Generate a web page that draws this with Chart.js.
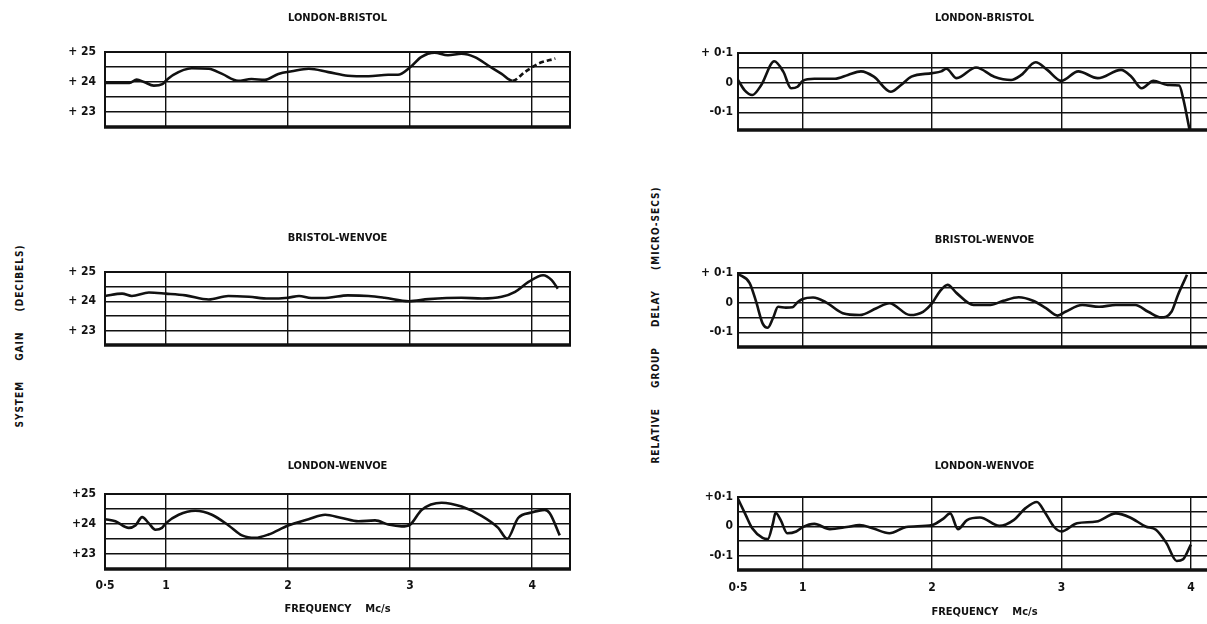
<!DOCTYPE html>
<html>
<head>
<meta charset="utf-8">
<script src="https://cdn.jsdelivr.net/npm/chart.js@4.4.1/dist/chart.umd.min.js"></script>
<style>
  body { margin: 0; width: 1207px; height: 624px; overflow: hidden; background: #fff; position: relative; }
  .panel { position: absolute; }
  .ytitle {
    position: absolute; white-space: nowrap; color: #111;
    font: bold 10px 'Liberation Sans Narrow', 'DejaVu Sans Condensed', 'Liberation Sans', sans-serif;
    letter-spacing: 1px; word-spacing: 16px;
    transform: translate(-50%, -50%) rotate(-90deg);
  }
</style>
</head>
<body>
<canvas class="panel" id="gainLB" width="536" height="147" style="left:40px;top:0px"></canvas>
<canvas class="panel" id="gainBW" width="536" height="145" style="left:40px;top:220px"></canvas>
<canvas class="panel" id="gainLW" width="536" height="176" style="left:40px;top:448px"></canvas>
<canvas class="panel" id="delayLB" width="557" height="150" style="left:680px;top:0px"></canvas>
<canvas class="panel" id="delayBW" width="557" height="145" style="left:680px;top:222px"></canvas>
<canvas class="panel" id="delayLW" width="557" height="176" style="left:680px;top:448px"></canvas>
<div class="ytitle" style="left:19px;top:336px">SYSTEM GAIN (DECIBELS)</div>
<div class="ytitle" style="left:655px;top:325px">RELATIVE GROUP DELAY (MICRO-SECS)</div>
<script>
// frequency ticks (Mc/s)
const freqTicks = [0.5, 1, 2, 3, 4];
const freqLabels = ["0·5", "1", "2", "3", "4"];

// system gain, dB
const gainTicks = [23, 23.5, 24, 24.5, 25];
const gainLabels = ["+ 23", "", "+ 24", "", "+ 25"];
const gainLabelsLow = ["+23", "", "+24", "", "+25"];

const freqGainLB = [0.5, 0.7, 0.76, 0.82, 0.9, 0.97, 1.0, 1.06, 1.21, 1.35, 1.46, 1.59, 1.70, 1.81, 1.92, 2.03, 2.17, 2.33, 2.49, 2.66, 2.82, 2.9, 3.0, 3.09, 3.2, 3.31, 3.42, 3.53, 3.64, 3.75, 3.84, 3.94, 4.05, 4.19];
const gainLB = [23.97, 23.97, 24.08, 24.0, 23.88, 23.93, 24.05, 24.24, 24.46, 24.44, 24.27, 24.04, 24.1, 24.07, 24.27, 24.36, 24.44, 24.33, 24.21, 24.19, 24.24, 24.24, 24.49, 24.83, 24.98, 24.89, 24.94, 24.83, 24.55, 24.27, 24.04, 24.33, 24.61, 24.78];

const freqGainBW = [0.5, 0.64, 0.72, 0.86, 1.0, 1.16, 1.35, 1.51, 1.68, 1.84, 2.0, 2.09, 2.19, 2.33, 2.49, 2.66, 2.79, 2.99, 3.15, 3.42, 3.59, 3.75, 3.86, 3.97, 4.09, 4.16, 4.21];
const gainBW = [24.18, 24.26, 24.18, 24.3, 24.26, 24.2, 24.06, 24.18, 24.15, 24.09, 24.12, 24.18, 24.11, 24.12, 24.2, 24.18, 24.12, 24.0, 24.07, 24.12, 24.09, 24.15, 24.32, 24.66, 24.89, 24.72, 24.43];

const freqGainLW = [0.5, 0.585, 0.695, 0.749, 0.804, 0.858, 0.913, 0.967, 1.0, 1.104, 1.24, 1.376, 1.513, 1.622, 1.731, 1.84, 2.0, 2.167, 2.304, 2.44, 2.576, 2.713, 2.822, 2.931, 3.0, 3.094, 3.258, 3.422, 3.585, 3.722, 3.795, 3.885, 3.994, 4.103, 4.144, 4.226];
const gainLW = [24.16, 24.09, 23.87, 23.95, 24.23, 24.03, 23.81, 23.87, 24.03, 24.31, 24.44, 24.31, 23.95, 23.62, 23.54, 23.65, 23.95, 24.16, 24.31, 24.2, 24.09, 24.12, 23.98, 23.92, 23.98, 24.47, 24.71, 24.58, 24.27, 23.87, 23.51, 24.2, 24.38, 24.47, 24.36, 23.62];

// relative group delay, micro-secs
const delayTicks = [-0.1, -0.05, 0, 0.05, 0.1];
const delayLabels = ["-0·1", "", "0", "", "+ 0·1"];
const delayLabelsLow = ["-0·1", "", "0", "", "+0·1"];

const freqDelayLB = [0.5, 0.55, 0.61, 0.68, 0.78, 0.85, 0.91, 0.96, 1.0, 1.09, 1.25, 1.35, 1.45, 1.55, 1.68, 1.76, 1.84, 2.0, 2.07, 2.11, 2.19, 2.34, 2.48, 2.61, 2.69, 2.8, 2.89, 3.0, 3.13, 3.28, 3.46, 3.54, 3.62, 3.71, 3.82, 3.91, 3.94, 3.99];
const delayLB = [0.009, -0.025, -0.042, -0.008, 0.072, 0.037, -0.019, -0.014, 0.006, 0.013, 0.013, 0.026, 0.038, 0.02, -0.031, -0.008, 0.02, 0.032, 0.038, 0.047, 0.015, 0.051, 0.02, 0.009, 0.026, 0.069, 0.043, 0.006, 0.038, 0.015, 0.043, 0.02, -0.019, 0.006, -0.008, -0.01, -0.053, -0.16];

const freqDelayBW = [0.5, 0.59, 0.64, 0.69, 0.73, 0.77, 0.81, 0.87, 0.92, 0.96, 1.0, 1.08, 1.18, 1.31, 1.44, 1.57, 1.67, 1.83, 1.93, 2.0, 2.06, 2.12, 2.19, 2.32, 2.45, 2.55, 2.67, 2.78, 2.88, 2.97, 3.03, 3.16, 3.29, 3.42, 3.57, 3.67, 3.77, 3.85, 3.9, 3.97];
const delayBW = [0.097, 0.066, 0.003, -0.07, -0.085, -0.053, -0.014, -0.017, -0.016, 0.001, 0.012, 0.017, 0.001, -0.036, -0.042, -0.019, -0.002, -0.042, -0.031, -0.002, 0.038, 0.06, 0.032, -0.008, -0.008, 0.006, 0.018, 0.006, -0.019, -0.044, -0.031, -0.008, -0.014, -0.008, -0.008, -0.031, -0.05, -0.031, 0.026, 0.094];

const freqDelayLW = [0.5, 0.56, 0.61, 0.69, 0.73, 0.77, 0.79, 0.83, 0.88, 0.95, 1.0, 1.09, 1.21, 1.34, 1.44, 1.54, 1.67, 1.8, 2.0, 2.09, 2.14, 2.2, 2.27, 2.37, 2.52, 2.63, 2.72, 2.81, 2.87, 2.94, 3.0, 3.12, 3.27, 3.42, 3.53, 3.65, 3.73, 3.81, 3.89, 3.94, 4.0];
const delayLW = [0.094, 0.038, -0.007, -0.04, -0.044, 0.01, 0.046, 0.021, -0.024, -0.018, -0.003, 0.008, -0.01, -0.003, 0.004, -0.007, -0.024, -0.003, 0.004, 0.027, 0.044, -0.01, 0.021, 0.03, 0.001, 0.021, 0.061, 0.083, 0.049, -0.001, -0.018, 0.01, 0.016, 0.044, 0.03, -0.001, -0.012, -0.057, -0.119, -0.113, -0.063];

Chart.defaults.font.family = "'Liberation Sans Narrow', 'DejaVu Sans Condensed', 'Liberation Sans', sans-serif";
Chart.defaults.font.weight = "bold";
Chart.defaults.color = "#111";

// box round the plot area, heavier at the bottom
const frame = {
  id: "frame",
  beforeDatasetsDraw(chart) {
    const a = chart.chartArea;
    const ctx = chart.ctx;
    ctx.save();
    ctx.strokeStyle = "#111";
    ctx.lineWidth = 2;
    ctx.strokeRect(a.left, a.top, a.right - a.left, a.bottom - a.top);
    ctx.lineWidth = 3.5;
    ctx.beginPath();
    ctx.moveTo(a.left - 1, a.bottom);
    ctx.lineTo(a.right + 1, a.bottom);
    ctx.stroke();
    ctx.restore();
  }
};

function panel(id, o) {
  const points = o.xs.map((x, i) => ({ x: x, y: o.ys[i] }));
  const bottom = !!o.showFreq;
  return new Chart(document.getElementById(id), {
    type: "line",
    data: {
      datasets: [{
        data: points,
        borderColor: "#111",
        borderWidth: 2.6,
        pointRadius: 0,
        cubicInterpolationMode: "monotone",
        segment: {
          borderDash: ctx => (o.dashFrom && ctx.p0.parsed.x >= o.dashFrom ? [5, 3] : undefined)
        }
      }]
    },
    options: {
      responsive: false,
      animation: false,
      layout: { padding: { right: 6, bottom: o.padBottom } },
      plugins: {
        legend: { display: false },
        tooltip: { enabled: false },
        title: {
          display: true,
          text: o.title,
          fullSize: false,
          font: { size: 11, weight: "bold" },
          padding: { top: 11.4, bottom: o.titleGap }
        }
      },
      scales: {
        x: {
          type: "linear",
          min: 0.5,
          max: o.xMax,
          afterBuildTicks: s => { s.ticks = freqTicks.map(v => ({ value: v })); },
          afterFit: s => { s.height = o.xAxisHeight; },
          grid: { color: "#111", lineWidth: 1.4, drawTicks: false },
          border: { display: false },
          ticks: {
            display: bottom,
            autoSkip: false,
            maxRotation: 0,
            padding: o.xPad,
            font: { size: 12 },
            callback: (v, i) => freqLabels[i]
          },
          title: {
            display: bottom,
            text: "FREQUENCY    Mc/s",
            font: { size: 11, weight: "bold" },
            padding: { top: o.xTitlePad, bottom: o.xTitlePad }
          }
        },
        y: {
          min: o.yMin,
          max: o.yMax,
          afterBuildTicks: s => { s.ticks = o.yTicks.map(v => ({ value: v })); },
          afterFit: s => { s.width = o.yWidth; },
          grid: { color: "#111", lineWidth: 1.4, drawTicks: false },
          border: { display: false },
          ticks: {
            autoSkip: false,
            padding: o.yPad,
            font: { size: 12 },
            callback: (v, i) => o.yLabels[i]
          }
        }
      }
    },
    plugins: [frame]
  });
}

const gainBase = { yMin: 22.5, yMax: 25, yTicks: gainTicks, yLabels: gainLabels, yWidth: 65, yPad: 9, xMax: 4.31, xAxisHeight: 20, padBottom: 0, titleGap: 27.4 };
const delayBase = { yMin: -0.15, yMax: 0.1, yTicks: delayTicks, yLabels: delayLabels, yWidth: 58, yPad: 5, xMax: 4.31, xAxisHeight: 20, padBottom: 0 };

panel("gainLB", Object.assign({}, gainBase, { title: "LONDON-BRISTOL", xs: freqGainLB, ys: gainLB, dashFrom: 3.84 }));
panel("gainBW", Object.assign({}, gainBase, { title: "BRISTOL-WENVOE", xs: freqGainBW, ys: gainBW }));
panel("gainLW", Object.assign({}, gainBase, { title: "LONDON-WENVOE", xs: freqGainLW, ys: gainLW, yLabels: gainLabelsLow, titleGap: 21.4, padBottom: 5, xAxisHeight: 50, showFreq: true, xPad: 9.5, xTitlePad: 3.4 }));

panel("delayLB", Object.assign({}, delayBase, { title: "LONDON-BRISTOL", xs: freqDelayLB, ys: delayLB, yMin: -0.16, titleGap: 28.4 }));
panel("delayBW", Object.assign({}, delayBase, { title: "BRISTOL-WENVOE", xs: freqDelayBW, ys: delayBW, titleGap: 26.4 }));
panel("delayLW", Object.assign({}, delayBase, { title: "LONDON-WENVOE", xs: freqDelayLW, ys: delayLW, yLabels: delayLabelsLow, titleGap: 24.4, padBottom: 4, xAxisHeight: 50, showFreq: true, xPad: 10.5, xTitlePad: 1.4 }));
</script>
</body>
</html>
